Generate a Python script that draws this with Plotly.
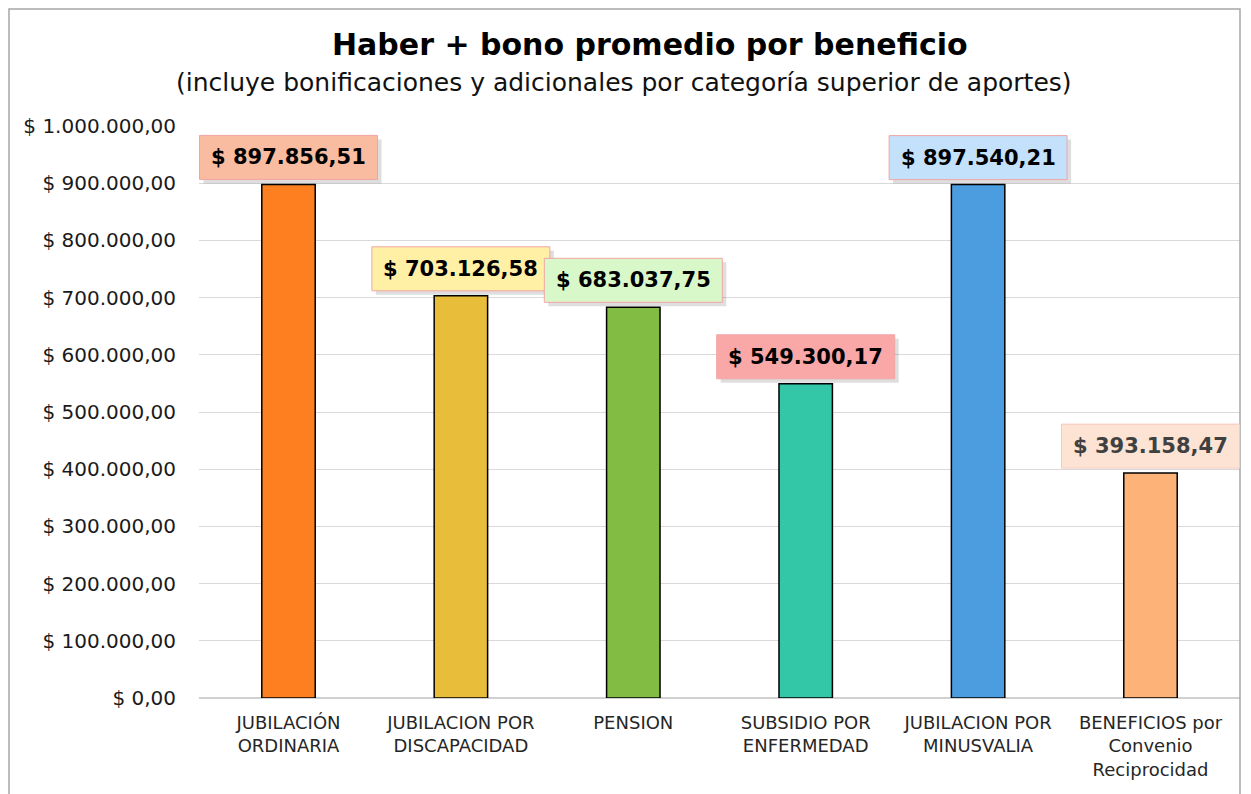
import plotly.graph_objects as go

categories = ["JUBILACIÓN<br>ORDINARIA", "JUBILACION POR<br>DISCAPACIDAD", "PENSION",
              "SUBSIDIO POR<br>ENFERMEDAD", "JUBILACION POR<br>MINUSVALIA",
              "BENEFICIOS por<br>Convenio<br>Reciprocidad"]
values = [897856.51, 703126.58, 683037.75, 549300.17, 897540.21, 393158.47]
bar_colors = ["#fd7f1f", "#e7bd3a", "#83bc42", "#33c6a7", "#4b9ddf", "#fdb377"]
label_fills = ["#fabca0", "#fff0a6", "#d9f8c9", "#f9a7a7", "#c4e1fc", "#fde3d3"]
label_borders = ["#f2a4a4", "#f2a4a4", "#f2a4a4", "#f2a4a4", "#f2a4a4", "#f6c8c0"]
label_text_colors = ["#000000", "#000000", "#000000", "#000000", "#000000", "#404040"]
label_shadow = [True, True, True, True, True, False]
tick_vals = [0, 100000, 200000, 300000, 400000, 500000, 600000, 700000, 800000, 900000, 1000000]
tick_text = ["$ 0,00", "$ 100.000,00", "$ 200.000,00", "$ 300.000,00", "$ 400.000,00",
             "$ 500.000,00", "$ 600.000,00", "$ 700.000,00", "$ 800.000,00", "$ 900.000,00",
             "$ 1.000.000,00"]
title = "Haber + bono promedio por beneficio"
subtitle = "(incluye bonificaciones y adicionales por categoría superior de aportes)"


def fmt(v):
    s = f"{v:,.2f}"
    return "$ " + s.replace(",", "X").replace(".", ",").replace("X", ".")


FONT = "DejaVu Sans"
OFF = 8  # page body offset
W, H = 1251 - OFF, 794 - OFF
ML, MR, MT, MB = 199 - OFF, 11, 126 - OFF, 96
PW, PH = W - ML - MR, H - MT - MB
BOT = 698  # page y of plot bottom
BOX_W, BOX_H, GAP = 178, 44, 5

fig = go.Figure()
fig.add_trace(go.Bar(
    x=categories, y=values, width=0.31,
    marker=dict(color=bar_colors, line=dict(color="#000000", width=1.5)),
    hoverinfo="skip",
))

shapes = [dict(
    type="rect", xref="paper", yref="paper",
    x0=(OFF + 1 - 199) / PW, x1=(1240 - 199) / PW,
    y0=(BOT - 830) / PH, y1=(BOT - OFF - 1) / PH,
    line=dict(color="#a6a6a6", width=1.5), fillcolor="rgba(0,0,0,0)", layer="above",
)]

annotations = []
for i, (c, v, fill, bc, tc, sh) in enumerate(zip(categories, values, label_fills, label_borders,
                                                  label_text_colors, label_shadow)):
    if sh:
        shapes.append(dict(
            type="rect", xref="x", yref="y", xsizemode="pixel", ysizemode="pixel",
            xanchor=i, yanchor=v,
            x0=-BOX_W / 2 + 4, x1=BOX_W / 2 + 4, y0=GAP - 4, y1=GAP + BOX_H - 4,
            fillcolor="rgba(0,0,0,0.13)", line=dict(width=0), layer="above",
        ))
    shapes.append(dict(
        type="rect", xref="x", yref="y", xsizemode="pixel", ysizemode="pixel",
        xanchor=i, yanchor=v,
        x0=-BOX_W / 2, x1=BOX_W / 2, y0=GAP, y1=GAP + BOX_H,
        fillcolor=fill, line=dict(width=1, color=bc), layer="above",
    ))
    annotations.append(dict(
        x=c, y=v, xref="x", yref="y", text=fmt(v), showarrow=False,
        yanchor="middle", yshift=GAP + BOX_H / 2,
        font=dict(family=FONT, size=21, color=tc, weight="bold"),
    ))

annotations.append(dict(
    x=(650 - 199) / PW, y=(BOT - 44) / PH, xref="paper", yref="paper",
    text=title, showarrow=False, xanchor="center", yanchor="middle",
    font=dict(family=FONT, size=30, color="#000000", weight="bold"),
))
annotations.append(dict(
    x=(624 - 199) / PW, y=(BOT - 83) / PH, xref="paper", yref="paper",
    text=subtitle, showarrow=False, xanchor="center", yanchor="middle",
    font=dict(family=FONT, size=25, color="#111111"),
))

fig.update_layout(
    width=W, height=H,
    margin=dict(l=ML, r=MR, t=MT, b=MB, autoexpand=False),
    paper_bgcolor="#ffffff", plot_bgcolor="#ffffff",
    showlegend=False,
    annotations=annotations, shapes=shapes,
    font=dict(family=FONT, color="#262626"),
)
fig.update_yaxes(
    range=[0, 1000000], tickvals=tick_vals, ticktext=tick_text,
    showgrid=True, gridcolor="#d9d9d9", gridwidth=1.3,
    zeroline=True, zerolinecolor="#d0d0d0", zerolinewidth=1.5,
    showline=False, ticks="", ticklabelstandoff=22,
    tickfont=dict(family=FONT, size=20, color="#1a1a1a"), automargin=False,
)
fig.update_xaxes(
    showgrid=False, showline=False, ticks="",
    tickfont=dict(family=FONT, size=18, color="#262626"), automargin=False,
    tickangle=0, ticklabelstandoff=12,
)

fig.write_html("out.html")
